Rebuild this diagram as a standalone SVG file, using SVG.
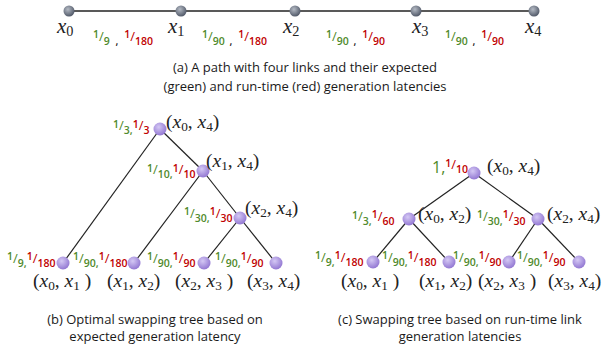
<svg xmlns="http://www.w3.org/2000/svg" width="610" height="350" viewBox="0 0 610 350">
<defs>
<radialGradient id="gg" cx="0.4" cy="0.35" r="0.7">
<stop offset="0" stop-color="#b4bac4"/><stop offset="1" stop-color="#4a5262"/>
</radialGradient>
<radialGradient id="pg" cx="0.4" cy="0.35" r="0.7">
<stop offset="0" stop-color="#d4c8f4"/><stop offset="1" stop-color="#8e72d0"/>
</radialGradient>
<style>
.m{font-family:"Liberation Serif",serif;font-style:italic;fill:#222}
.pm{font-size:21px}
.tm{font-size:19.5px}
.s{font-style:normal;font-size:0.68em}
.p{font-style:normal}
.f{font-family:"Open Sans","Liberation Sans",sans-serif;font-size:10.5px;font-weight:600}
.g{fill:#4f8a2b}
.r{fill:#c00000}
.k{fill:#222}
.sl{font-size:13px;font-weight:400}
.big{font-size:16px;font-weight:400}
.cap{font-family:"Open Sans","Liberation Sans",sans-serif;font-size:13px;fill:#1a1a1a;text-anchor:middle}
.e{stroke:#222;stroke-width:1.2;fill:none}
.pl{stroke:#222;stroke-width:1.5}
</style>
</defs>

<g id="connectors">
<line class="pl" x1="69" y1="11" x2="534" y2="11"/>
<line class="e" x1="160" y1="129" x2="63" y2="263"/>
<line class="e" x1="160" y1="129" x2="203" y2="171"/>
<line class="e" x1="203" y1="171" x2="134" y2="263"/>
<line class="e" x1="203" y1="171" x2="240" y2="218"/>
<line class="e" x1="240" y1="218" x2="204" y2="263"/>
<line class="e" x1="240" y1="218" x2="276" y2="263"/>
<line class="e" x1="474" y1="173" x2="409" y2="219"/>
<line class="e" x1="474" y1="173" x2="538" y2="219"/>
<line class="e" x1="409" y1="219" x2="373" y2="262"/>
<line class="e" x1="409" y1="219" x2="449" y2="262"/>
<line class="e" x1="538" y1="219" x2="509" y2="262"/>
<line class="e" x1="538" y1="219" x2="579" y2="262"/>
</g>

<g id="path-a">
<g id="x0"><circle cx="69" cy="11" r="5.5" fill="url(#gg)"/><text class="m pm" x="57" y="33">x<tspan class="s" dy="3">0</tspan></text></g>
<g id="x1"><circle cx="181" cy="11" r="5.5" fill="url(#gg)"/><text class="m pm" x="168" y="33">x<tspan class="s" dy="3">1</tspan></text></g>
<g id="x2"><circle cx="295" cy="11" r="5.5" fill="url(#gg)"/><text class="m pm" x="283" y="33">x<tspan class="s" dy="3">2</tspan></text></g>
<g id="x3"><circle cx="416" cy="11" r="5.5" fill="url(#gg)"/><text class="m pm" x="412" y="33">x<tspan class="s" dy="3">3</tspan></text></g>
<g id="x4"><circle cx="534" cy="11" r="5.5" fill="url(#gg)"/><text class="m pm" x="525" y="33">x<tspan class="s" dy="3">4</tspan></text></g>
<text class="f" x="93" y="45"><tspan class="g" dy="-7">1</tspan><tspan class="g sl" dy="3">/</tspan><tspan class="g" dy="4">9</tspan><tspan class="k" dx="3"> , </tspan><tspan class="r" dy="-7" dx="3">1</tspan><tspan class="r sl" dy="3">/</tspan><tspan class="r" dy="4">180</tspan></text>
<text class="f" x="202" y="45"><tspan class="g" dy="-7">1</tspan><tspan class="g sl" dy="3">/</tspan><tspan class="g" dy="4">90</tspan><tspan class="k" dx="2"> , </tspan><tspan class="r" dy="-7" dx="3">1</tspan><tspan class="r sl" dy="3">/</tspan><tspan class="r" dy="4">180</tspan></text>
<text class="f" x="326" y="45"><tspan class="g" dy="-7">1</tspan><tspan class="g sl" dy="3">/</tspan><tspan class="g" dy="4">90</tspan><tspan class="k" dx="2"> , </tspan><tspan class="r" dy="-7" dx="3">1</tspan><tspan class="r sl" dy="3">/</tspan><tspan class="r" dy="4">90</tspan></text>
<text class="f" x="445" y="45"><tspan class="g" dy="-7">1</tspan><tspan class="g sl" dy="3">/</tspan><tspan class="g" dy="4">90</tspan><tspan class="k" dx="2"> , </tspan><tspan class="r" dy="-7" dx="3">1</tspan><tspan class="r sl" dy="3">/</tspan><tspan class="r" dy="4">90</tspan></text>
<text class="cap" x="305" y="72">(a) A path with four links and their expected</text>
<text class="cap" x="305" y="91">(green) and run-time (red) generation latencies</text>
</g>

<g id="tree-b">
<g id="b-x0x4"><circle cx="160" cy="129" r="6.5" fill="url(#pg)"/><text class="m tm" x="166" y="128"><tspan class="p">(</tspan>x<tspan class="s" dy="3">0</tspan><tspan class="p" dy="-3">, </tspan>x<tspan class="s" dy="3">4</tspan><tspan class="p" dy="-3">)</tspan></text>
<text class="f" x="113" y="134"><tspan class="g" dy="-6">1</tspan><tspan class="g sl" dy="2">/</tspan><tspan class="g" dy="4">3</tspan><tspan class="g">,</tspan><tspan class="r" dy="-6">1</tspan><tspan class="r sl" dy="2">/</tspan><tspan class="r" dy="4">3</tspan></text></g>
<g id="b-x1x4"><circle cx="203" cy="171" r="6.5" fill="url(#pg)"/><text class="m tm" x="206" y="167"><tspan class="p">(</tspan>x<tspan class="s" dy="3">1</tspan><tspan class="p" dy="-3">, </tspan>x<tspan class="s" dy="3">4</tspan><tspan class="p" dy="-3">)</tspan></text>
<text class="f" x="147" y="178"><tspan class="g" dy="-6">1</tspan><tspan class="g sl" dy="2">/</tspan><tspan class="g" dy="4">10</tspan><tspan class="g">,</tspan><tspan class="r" dy="-6">1</tspan><tspan class="r sl" dy="2">/</tspan><tspan class="r" dy="4">10</tspan></text></g>
<g id="b-x2x4"><circle cx="240" cy="218" r="6.5" fill="url(#pg)"/><text class="m tm" x="245" y="214"><tspan class="p">(</tspan>x<tspan class="s" dy="3">2</tspan><tspan class="p" dy="-3">, </tspan>x<tspan class="s" dy="3">4</tspan><tspan class="p" dy="-3">)</tspan></text>
<text class="f" x="184" y="222"><tspan class="g" dy="-7">1</tspan><tspan class="g sl" dy="3">/</tspan><tspan class="g" dy="4">30</tspan><tspan class="g">,</tspan><tspan class="r" dy="-7">1</tspan><tspan class="r sl" dy="3">/</tspan><tspan class="r" dy="4">30</tspan></text></g>
<g id="b-x0x1"><circle cx="63" cy="263" r="6.5" fill="url(#pg)"/><text class="m tm" x="33" y="287"><tspan class="p">(</tspan>x<tspan class="s" dy="3">0</tspan><tspan class="p" dy="-3">, </tspan>x<tspan class="s" dy="3">1</tspan><tspan class="p" dy="-3"> )</tspan></text>
<text class="f" x="7" y="267"><tspan class="g" dy="-7">1</tspan><tspan class="g sl" dy="3">/</tspan><tspan class="g" dy="4">9</tspan><tspan class="g">,</tspan><tspan class="r" dy="-7">1</tspan><tspan class="r sl" dy="3">/</tspan><tspan class="r" dy="4">180</tspan></text></g>
<g id="b-x1x2"><circle cx="134" cy="263" r="6.5" fill="url(#pg)"/><text class="m tm" x="107" y="287"><tspan class="p">(</tspan>x<tspan class="s" dy="3">1</tspan><tspan class="p" dy="-3">, </tspan>x<tspan class="s" dy="3">2</tspan><tspan class="p" dy="-3">)</tspan></text>
<text class="f" x="73" y="267"><tspan class="g" dy="-7">1</tspan><tspan class="g sl" dy="3">/</tspan><tspan class="g" dy="4">90</tspan><tspan class="g">,</tspan><tspan class="r" dy="-7">1</tspan><tspan class="r sl" dy="3">/</tspan><tspan class="r" dy="4">180</tspan></text></g>
<g id="b-x2x3"><circle cx="204" cy="263" r="6.5" fill="url(#pg)"/><text class="m tm" x="175" y="287"><tspan class="p">(</tspan>x<tspan class="s" dy="3">2</tspan><tspan class="p" dy="-3">, </tspan>x<tspan class="s" dy="3">3</tspan><tspan class="p" dy="-3"> )</tspan></text>
<text class="f" x="147" y="267"><tspan class="g" dy="-7">1</tspan><tspan class="g sl" dy="3">/</tspan><tspan class="g" dy="4">90</tspan><tspan class="g">,</tspan><tspan class="r" dy="-7">1</tspan><tspan class="r sl" dy="3">/</tspan><tspan class="r" dy="4">90</tspan></text></g>
<g id="b-x3x4"><circle cx="276" cy="263" r="6.5" fill="url(#pg)"/><text class="m tm" x="247" y="287"><tspan class="p">(</tspan>x<tspan class="s" dy="3">3</tspan><tspan class="p" dy="-3">, </tspan>x<tspan class="s" dy="3">4</tspan><tspan class="p" dy="-3">)</tspan></text>
<text class="f" x="215" y="267"><tspan class="g" dy="-7">1</tspan><tspan class="g sl" dy="3">/</tspan><tspan class="g" dy="4">90</tspan><tspan class="g">,</tspan><tspan class="r" dy="-7">1</tspan><tspan class="r sl" dy="3">/</tspan><tspan class="r" dy="4">90</tspan></text></g>
<text class="cap" x="155" y="324">(b) Optimal swapping tree based on</text>
<text class="cap" x="155" y="341">expected generation latency</text>
</g>

<g id="tree-c">
<g id="c-x0x4"><circle cx="474" cy="173" r="6.5" fill="url(#pg)"/><text class="m tm" x="487" y="172"><tspan class="p">(</tspan>x<tspan class="s" dy="3">0</tspan><tspan class="p" dy="-3">, </tspan>x<tspan class="s" dy="3">4</tspan><tspan class="p" dy="-3">)</tspan></text>
<text class="f" x="432" y="173"><tspan class="g big">1,</tspan><tspan class="r" dy="-6">1</tspan><tspan class="r sl" dy="2">/</tspan><tspan class="r" dy="4">10</tspan></text></g>
<g id="c-x0x2"><circle cx="409" cy="219" r="6.5" fill="url(#pg)"/><text class="m tm" x="418" y="220"><tspan class="p">(</tspan>x<tspan class="s" dy="3">0</tspan><tspan class="p" dy="-3">, </tspan>x<tspan class="s" dy="3">2</tspan><tspan class="p" dy="-3">)</tspan></text>
<text class="f" x="352" y="225"><tspan class="g" dy="-6">1</tspan><tspan class="g sl" dy="2">/</tspan><tspan class="g" dy="4">3</tspan><tspan class="g">,</tspan><tspan class="r" dy="-7">1</tspan><tspan class="r sl" dy="3">/</tspan><tspan class="r" dy="4">60</tspan></text></g>
<g id="c-x2x4"><circle cx="538" cy="219" r="6.5" fill="url(#pg)"/><text class="m tm" x="547" y="220"><tspan class="p">(</tspan>x<tspan class="s" dy="3">2</tspan><tspan class="p" dy="-3">, </tspan>x<tspan class="s" dy="3">4</tspan><tspan class="p" dy="-3">)</tspan></text>
<text class="f" x="477" y="225"><tspan class="g" dy="-7">1</tspan><tspan class="g sl" dy="3">/</tspan><tspan class="g" dy="4">30</tspan><tspan class="g">,</tspan><tspan class="r" dy="-7">1</tspan><tspan class="r sl" dy="3">/</tspan><tspan class="r" dy="4">30</tspan></text></g>
<g id="c-x0x1"><circle cx="373" cy="262" r="6.5" fill="url(#pg)"/><text class="m tm" x="341" y="287"><tspan class="p">(</tspan>x<tspan class="s" dy="3">0</tspan><tspan class="p" dy="-3">, </tspan>x<tspan class="s" dy="3">1</tspan><tspan class="p" dy="-3"> )</tspan></text>
<text class="f" x="315" y="266"><tspan class="g" dy="-7">1</tspan><tspan class="g sl" dy="3">/</tspan><tspan class="g" dy="4">9</tspan><tspan class="g">,</tspan><tspan class="r" dy="-7">1</tspan><tspan class="r sl" dy="3">/</tspan><tspan class="r" dy="4">180</tspan></text></g>
<g id="c-x1x2"><circle cx="449" cy="262" r="6.5" fill="url(#pg)"/><text class="m tm" x="419" y="287"><tspan class="p">(</tspan>x<tspan class="s" dy="3">1</tspan><tspan class="p" dy="-3">, </tspan>x<tspan class="s" dy="3">2</tspan><tspan class="p" dy="-3">)</tspan></text>
<text class="f" x="382" y="266"><tspan class="g" dy="-7">1</tspan><tspan class="g sl" dy="3">/</tspan><tspan class="g" dy="4">90</tspan><tspan class="g">,</tspan><tspan class="r" dy="-7">1</tspan><tspan class="r sl" dy="3">/</tspan><tspan class="r" dy="4">180</tspan></text></g>
<g id="c-x2x3"><circle cx="509" cy="262" r="6.5" fill="url(#pg)"/><text class="m tm" x="478" y="287"><tspan class="p">(</tspan>x<tspan class="s" dy="3">2</tspan><tspan class="p" dy="-3">, </tspan>x<tspan class="s" dy="3">3</tspan><tspan class="p" dy="-3"> )</tspan></text>
<text class="f" x="453" y="266"><tspan class="g" dy="-7">1</tspan><tspan class="g sl" dy="3">/</tspan><tspan class="g" dy="4">90</tspan><tspan class="g">,</tspan><tspan class="r" dy="-7">1</tspan><tspan class="r sl" dy="3">/</tspan><tspan class="r" dy="4">90</tspan></text></g>
<g id="c-x3x4"><circle cx="579" cy="262" r="6.5" fill="url(#pg)"/><text class="m tm" x="548" y="287"><tspan class="p">(</tspan>x<tspan class="s" dy="3">3</tspan><tspan class="p" dy="-3">, </tspan>x<tspan class="s" dy="3">4</tspan><tspan class="p" dy="-3">)</tspan></text>
<text class="f" x="517" y="266"><tspan class="g" dy="-7">1</tspan><tspan class="g sl" dy="3">/</tspan><tspan class="g" dy="4">90</tspan><tspan class="g">,</tspan><tspan class="r" dy="-7">1</tspan><tspan class="r sl" dy="3">/</tspan><tspan class="r" dy="4">90</tspan></text></g>
<text class="cap" x="460" y="324">(c) Swapping tree based on run-time link</text>
<text class="cap" x="460" y="341">generation latencies</text>
</g>
</svg>
